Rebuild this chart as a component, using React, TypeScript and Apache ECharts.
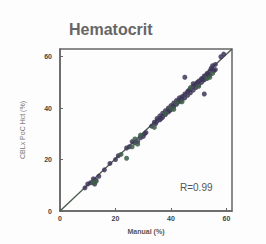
import React, { useEffect, useRef } from "react";
import * as echarts from "echarts";

const title = "Hematocrit";
const xName = "Manual (%)";
const yName = "CBLx PoC Hct (%)";
const rText = "R=0.99";
const identity = [[0, 0], [62, 63]];

const pointsDark = [
  [9, 9], [10, 10.5], [11, 11], [12, 12.5], [12.5, 10.5], [13, 12], [14, 13.5],
  [16, 16], [18, 18.5], [20, 20], [21, 21.5], [24, 24.5], [25, 25], [26, 27],
  [27, 26.5], [28, 27], [29, 28.5], [30, 29], [31, 30.5], [33, 33], [34, 34.5],
  [35, 35], [35, 36], [36, 35.5], [36, 37], [37, 36.5], [37, 38], [38, 37.5],
  [38, 39], [39, 38.5], [39, 40], [40, 39.5], [40, 41], [41, 40.5], [41, 42],
  [42, 41.5], [42, 43], [43, 42.5], [43, 44], [44, 43.5], [44, 44.5], [45, 44],
  [45, 45.5], [45, 52], [46, 45], [46, 46.5], [47, 46], [47, 47.5], [48, 47],
  [48, 48.5], [48, 49.5], [49, 48], [49, 49.5], [50, 49], [50, 50.5], [51, 50],
  [51, 51.5], [52, 51], [52, 52.5], [52, 45.5], [53, 52], [53, 53.5], [54, 53],
  [54, 54.5], [55, 55], [55, 56.5], [56, 55], [56, 57], [59, 61], [58, 60],
  [39.5, 39], [40.5, 40.5], [43.5, 43], [46.5, 47], [49.5, 50], [51.5, 51],
  [53.5, 53], [54.5, 55.5], [55.5, 54.5], [36.5, 36], [34.5, 34], [30.5, 30],
];
const pointsGreen = [
  [12, 11], [13, 11.5], [22, 22], [24, 20.5], [26, 25], [27, 28], [28, 26],
  [29, 29.5], [34, 32.5], [38, 38], [40, 40], [41, 39.5], [42, 42], [44, 42.5],
  [47, 48], [50, 48.5], [53, 51.5], [54, 52], [55, 53.5],
];

export default function App() {
  const ref = useRef<HTMLDivElement>(null);
  useEffect(() => {
    const chart = echarts.init(ref.current!, null, { renderer: "svg" });
    const axisCommon = {
      axisLine: { show: true, lineStyle: { color: "#666", width: 1.5 } },
      axisTick: { show: true, inside: true, length: 3, lineStyle: { color: "#666" } },
      splitLine: { show: false },
      axisLabel: {
        fontSize: 7,
        fontWeight: "bold",
        color: "#444",
        fontFamily: "Liberation Sans",
        showMaxLabel: false,
      },
    };
    chart.setOption({
      animation: false,
      backgroundColor: "#fdfdfd",
      title: {
        text: title,
        left: 64,
        top: 16,
        textStyle: { fontSize: 16, fontWeight: "bold", color: "#666", fontFamily: "Liberation Sans" },
      },
      grid: { left: 60, top: 49, width: 172, height: 162, show: true, borderColor: "#666", borderWidth: 1.5 },
      xAxis: {
        type: "value",
        min: 0,
        max: 62,
        interval: 20,
        name: xName,
        nameLocation: "middle",
        nameGap: 17,
        nameTextStyle: { fontSize: 7, fontWeight: "bold", color: "#555", fontFamily: "Liberation Sans" },
        ...axisCommon,
        axisLabel: { ...axisCommon.axisLabel, margin: 4 },
      },
      yAxis: {
        type: "value",
        min: 0,
        max: 63,
        interval: 20,
        name: yName,
        nameLocation: "middle",
        nameGap: 34,
        nameTextStyle: { fontSize: 7, color: "#777", fontFamily: "Liberation Sans" },
        ...axisCommon,
        axisLabel: { ...axisCommon.axisLabel, margin: 8 },
      },
      graphic: [
        {
          type: "text",
          left: 180,
          top: 182,
          style: { text: rText, fontSize: 10, fill: "#555", fontFamily: "Liberation Sans" },
        },
      ],
      series: [
        {
          type: "line",
          data: identity,
          symbol: "none",
          lineStyle: { color: "#4a5a4e", width: 1.3 },
          z: 1,
        },
        {
          type: "scatter",
          data: pointsDark,
          symbolSize: 5,
          itemStyle: { color: "#3e3658", opacity: 0.85 },
          z: 2,
        },
        {
          type: "scatter",
          data: pointsGreen,
          symbolSize: 5,
          itemStyle: { color: "#3c5e46", opacity: 0.85 },
          z: 2,
        },
      ],
    });
    return () => chart.dispose();
  }, []);
  return (
    <div
      ref={ref}
      style={{ position: "fixed", left: 0, top: 0, width: 266, height: 244 }}
    />
  );
}
